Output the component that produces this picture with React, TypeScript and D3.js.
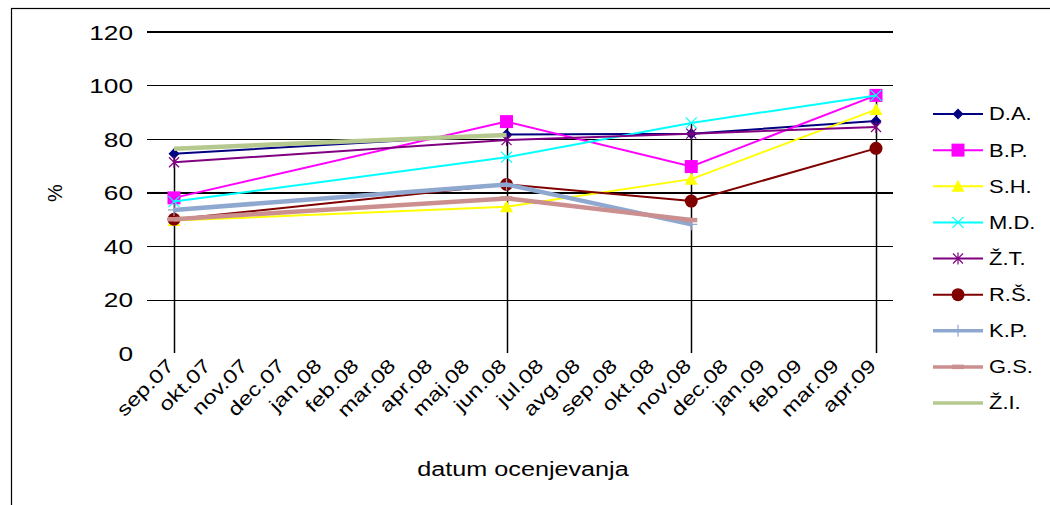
import React from "react";
import * as d3 from "d3";

const months = ["sep.07","okt.07","nov.07","dec.07","jan.08","feb.08","mar.08","apr.08","maj.08","jun.08","jul.08","avg.08","sep.08","okt.08","nov.08","dec.08","jan.09","feb.09","mar.09","apr.09"];
const yTicks = [0, 20, 40, 60, 80, 100, 120];

const dA = [["sep.07", 74.5], ["jun.08", 81.7], ["nov.08", 82], ["apr.09", 86.7]];
const bP = [["sep.07", 58], ["jun.08", 86.5], ["nov.08", 69.7], ["apr.09", 96.3]];
const sH = [["sep.07", 49.5], ["jun.08", 54.7], ["nov.08", 65], ["apr.09", 91]];
const mD = [["sep.07", 56.6], ["jun.08", 73.2], ["nov.08", 86], ["apr.09", 96.3]];
const zT = [["sep.07", 71.3], ["jun.08", 79.6], ["nov.08", 82], ["apr.09", 84.5]];
const rS = [["sep.07", 50], ["jun.08", 63], ["nov.08", 56.8], ["apr.09", 76.5]];
const kP = [["sep.07", 53.5], ["jun.08", 63], ["nov.08", 48.1]];
const gS = [["sep.07", 50], ["jun.08", 57.8], ["nov.08", 49.7]];
const zI = [["sep.07", 76.4], ["jun.08", 81.5]];

const seriesNames = ["D.A.", "B.P.", "S.H.", "M.D.", "Ž.T.", "R.Š.", "K.P.", "G.S.", "Ž.I."];
const seriesData = [dA, bP, sH, mD, zT, rS, kP, gS, zI];
const seriesColors = ["#000080", "#FF00FF", "#FFFF00", "#00FFFF", "#800080", "#800000", "#8FA8D0", "#CC8F8F", "#B5C98F"];
const seriesWidths = [2, 2, 2, 2, 2, 2, 4.5, 4.5, 4.5];
const seriesMarkers = ["diamond", "square", "triangle", "x", "star", "circle", "plus", "dash", "none"];

const FONT = "'Liberation Sans', Arial, sans-serif";

function Marker({ type, x, y, color }: { type: string; x: number; y: number; color: string }) {
  switch (type) {
    case "diamond":
      return <path d={`M${x},${y - 5.5}L${x + 5.5},${y}L${x},${y + 5.5}L${x - 5.5},${y}Z`} fill={color} />;
    case "square":
      return <rect x={x - 6.5} y={y - 6.5} width={13} height={13} fill={color} />;
    case "triangle":
      return <path d={`M${x},${y - 6.5}L${x + 6.5},${y + 5.5}L${x - 6.5},${y + 5.5}Z`} fill={color} />;
    case "x":
      return <path d={`M${x - 5.5},${y - 5.5}L${x + 5.5},${y + 5.5}M${x - 5.5},${y + 5.5}L${x + 5.5},${y - 5.5}`} stroke={color} strokeWidth={1.2} />;
    case "star":
      return <path d={`M${x - 5},${y - 5}L${x + 5},${y + 5}M${x - 5},${y + 5}L${x + 5},${y - 5}M${x},${y - 6}L${x},${y + 6}`} stroke={color} strokeWidth={1.2} />;
    case "circle":
      return <circle cx={x} cy={y} r={6.5} fill={color} />;
    case "plus":
      return <path d={`M${x},${y - 6}L${x},${y + 6}M${x - 6},${y}L${x + 6},${y}`} stroke={color} strokeWidth={1.2} />;
    case "dash":
      return <path d={`M${x - 6},${y}L${x + 6},${y}`} stroke={color} strokeWidth={4.5} />;
    default:
      return null;
  }
}

export default function App() {
  const x = d3.scalePoint<string>().domain(months).range([174, 876]);
  const y = d3.scaleLinear().domain([0, 120]).range([353, 32]);
  const gridX0 = 147, gridX1 = 893;
  const line = d3.line<any>().x((d) => x(d[0]) as number).y((d) => y(d[1]));

  const dates = Array.from(new Set(seriesData.flat().map((d) => d[0] as string)));
  const drops = dates.map((dt) => ({
    dt,
    max: d3.max(seriesData.flat().filter((d) => d[0] === dt), (d) => d[1] as number) as number,
  }));

  const legendY = d3.scalePoint<string>().domain(seriesNames).range([114, 403]);

  return (
    <svg width={1050} height={505} style={{ position: "absolute", left: 0, top: 0, background: "#fff" }}>
      <rect x={11.5} y={8.5} width={1100} height={600} fill="#fff" stroke="#000" strokeWidth={1.2} />
      {yTicks.filter((t) => t > 0).map((t) => (
        <line key={t} x1={gridX0} x2={gridX1} y1={Math.round(y(t)) + (t === 120 || t === 60 ? 0 : 0.5)} y2={Math.round(y(t)) + (t === 120 || t === 60 ? 0 : 0.5)} stroke="#000" strokeWidth={t === 120 || t === 60 ? 2 : 1} />
      ))}
      {yTicks.map((t) => (
        <text key={t} transform={`translate(133,${y(t)}) scale(1.25,1)`} dy="0.36em" textAnchor="end" fontFamily={FONT} fontSize={21}>
          {t}
        </text>
      ))}
      <text transform={`translate(62,193) rotate(-90)`} textAnchor="middle" fontFamily={FONT} fontSize={20}>%</text>
      {drops.map((d) => (
        <line key={d.dt} x1={Math.round(x(d.dt) as number) + 0.5} x2={Math.round(x(d.dt) as number) + 0.5} y1={y(d.max)} y2={y(0)} stroke="#000" strokeWidth={1.5} />
      ))}
      {seriesData.map((data, i) => (
        <g key={seriesNames[i]}>
          <path d={line(data) as string} fill="none" stroke={seriesColors[i]} strokeWidth={seriesWidths[i]} />
          {data.map((d) => (
            <Marker key={d[0] as string} type={seriesMarkers[i]} x={x(d[0] as string) as number} y={y(d[1] as number)} color={seriesColors[i]} />
          ))}
        </g>
      ))}
      {months.map((m) => (
        <text key={m} transform={`translate(${(x(m) as number) + 1},${367}) rotate(-45) scale(1.25,1)`} textAnchor="end" fontFamily={FONT} fontSize={19}>
          {m}
        </text>
      ))}
      <text transform="translate(523,476) scale(1.2,1)" textAnchor="middle" fontFamily={FONT} fontSize={21}>datum ocenjevanja</text>
      {seriesNames.map((n, i) => {
        const ly = legendY(n) as number;
        return (
          <g key={n}>
            <line x1={933} x2={983} y1={ly} y2={ly} stroke={seriesColors[i]} strokeWidth={seriesWidths[i] === 2 ? 2 : 3.5} />
            <Marker type={seriesMarkers[i]} x={958} y={ly} color={seriesColors[i]} />
            <text transform={`translate(989,${ly}) scale(1.22,1)`} dy="0.36em" fontFamily={FONT} fontSize={18}>{n}</text>
          </g>
        );
      })}
    </svg>
  );
}
